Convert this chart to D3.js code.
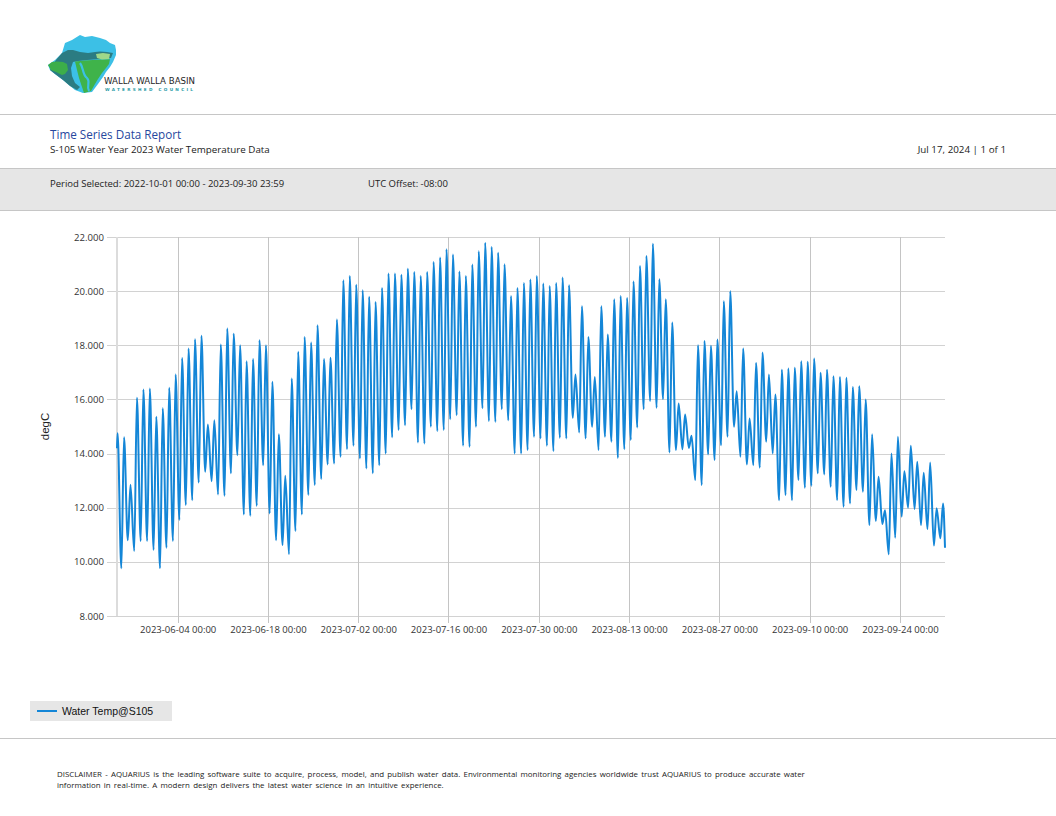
<!DOCTYPE html>
<html>
<head>
<meta charset="utf-8">
<script src="https://cdn.jsdelivr.net/npm/d3@7"></script>
<style>
  html, body { margin: 0; padding: 0; background: #fff; }
  svg { display: block; }
</style>
</head>
<body>
<div id="page"></div>
<script>
// Report texts
var reportTitle = "Time Series Data Report";
var reportSubtitle = "S-105 Water Year 2023 Water Temperature Data";
var reportDate = "Jul 17, 2024 | 1 of 1";
var periodText = "Period Selected: 2022-10-01 00:00 - 2023-09-30 23:59";
var utcText = "UTC Offset: -08:00";
var seriesName = "Water Temp@S105";
var yLabel = "degC";
var disclaimer = [
  "DISCLAIMER - AQUARIUS is the leading software suite to acquire, process, model, and publish water data. Environmental monitoring agencies worldwide trust AQUARIUS to produce accurate water",
  "information in real-time. A modern design delivers the latest water science in an intuitive experience."
];

// First day of the record; daily peaks come late afternoon, lows early morning
var firstDay = "2023-05-25";
var peakTime = "16:30";
var lowTime = "06:30";
var firstReading = ["2023-05-25 14:20", 14.20];
var lastReading = ["2023-09-30 23:45", 10.52];

// Daily maximum, one per day from 2023-05-25 to 2023-09-30
var dailyMax = [
  14.75, 14.60, 12.85, 16.06, 16.37, 16.40, 15.36, 15.67, 16.43, 16.92,
  17.53, 17.88, 18.22, 18.35, 15.07, 15.23, 18.03, 18.62, 18.43, 18.00,
  17.41, 17.49, 18.19, 18.00, 16.65, 14.71, 13.18, 16.77, 17.76, 18.31,
  18.10, 18.74, 17.49, 17.54, 18.95, 20.40, 20.56, 20.24, 20.03, 19.79,
  19.60, 20.12, 20.65, 20.65, 20.61, 20.83, 20.71, 20.56, 20.71, 21.08,
  21.24, 21.55, 21.35, 20.73, 20.56, 20.98, 21.47, 21.79, 21.63, 21.42,
  20.99, 19.82, 20.12, 20.30, 20.43, 20.56, 20.28, 20.19, 20.30, 20.50,
  20.22, 16.92, 19.44, 18.31, 16.83, 19.44, 18.40, 19.70, 19.82, 19.75,
  20.36, 20.93, 21.30, 21.75, 20.44, 19.70, 18.84, 15.85, 15.44, 14.66,
  18.00, 18.16, 17.98, 18.21, 19.63, 20.00, 16.30, 17.88, 15.30, 17.35,
  17.73, 16.92, 16.18, 17.10, 17.14, 17.17, 17.41, 17.39, 17.51, 16.99,
  17.10, 16.86, 16.83, 16.80, 16.46, 16.49, 16.00, 14.71, 13.14, 11.91,
  14.00, 14.62, 13.35, 14.29, 13.70, 13.29, 13.67, 11.98, 12.16
];

// Daily minimum, one per day from 2023-05-26 to 2023-09-30
var dailyMin = [
  9.76, 10.80, 10.40, 10.77, 10.77, 10.44, 9.76, 10.52, 10.77, 11.55,
  12.10, 12.28, 12.93, 13.33, 12.98, 12.49, 12.44, 13.27, 13.94, 11.75,
  11.70, 12.07, 13.57, 11.79, 10.80, 10.62, 10.28, 11.14, 11.75, 12.47,
  12.84, 13.06, 13.60, 13.63, 13.88, 14.16, 14.29, 13.82, 13.45, 13.27,
  13.57, 14.00, 14.60, 14.87, 15.05, 15.64, 14.41, 14.37, 14.99, 14.83,
  14.87, 15.27, 15.42, 14.29, 14.25, 14.99, 15.67, 15.20, 15.17, 15.64,
  15.23, 14.00, 14.00, 14.13, 14.62, 14.56, 14.29, 14.09, 14.58, 14.56,
  15.32, 14.78, 14.56, 14.99, 14.13, 14.62, 14.44, 13.84, 14.16, 14.50,
  14.96, 15.64, 15.94, 15.69, 16.01, 14.04, 14.13, 14.16, 14.21, 13.02,
  12.84, 13.97, 13.76, 14.31, 14.62, 14.99, 13.88, 13.60, 13.57, 13.48,
  14.44, 14.00, 12.28, 12.47, 12.28, 13.02, 12.74, 12.81, 13.27, 13.23,
  12.77, 12.28, 12.04, 12.16, 12.65, 12.59, 11.36, 11.51, 11.40, 10.28,
  10.89, 11.67, 12.00, 11.95, 11.36, 11.21, 10.60, 10.87
];

var xTickLabels = [
  "2023-06-04 00:00", "2023-06-18 00:00", "2023-07-02 00:00", "2023-07-16 00:00",
  "2023-07-30 00:00", "2023-08-13 00:00", "2023-08-27 00:00", "2023-09-10 00:00",
  "2023-09-24 00:00"
];
var yTicks = [8, 10, 12, 14, 16, 18, 20, 22];

var width = 1056, height = 816;
var plot = { left: 117, right: 945, top: 237, bottom: 616 };
var lineColor = "#1486d7";
var gridColor = "#d2d2d2";
var font = "'Open Sans', 'Noto Sans', sans-serif";

var parse = d3.timeParse("%Y-%m-%d %H:%M");
var fmt = d3.timeFormat("%Y-%m-%d %H:%M");

// Build the readings in time order
var readings = [];
readings.push({ t: parse(firstReading[0]), v: firstReading[1] });
var day0 = parse(firstDay + " 00:00");
for (var k = 0; k < dailyMax.length; k++) {
  var dayStr = d3.timeFormat("%Y-%m-%d")(d3.timeDay.offset(day0, k));
  if (k > 0) {
    readings.push({ t: parse(dayStr + " " + lowTime), v: dailyMin[k - 1] });
  }
  readings.push({ t: parse(dayStr + " " + peakTime), v: dailyMax[k] });
}
readings.push({ t: parse(lastReading[0]), v: lastReading[1] });

var svg = d3.select("#page").append("svg")
  .attr("width", width)
  .attr("height", height);

svg.append("rect").attr("width", width).attr("height", height).attr("fill", "#fff");

// ---- header logo ----
function logoPts(pts) {
  return pts.map(function(p) { return p.join(","); }).join(" ");
}
var logo = svg.append("g").attr("class", "logo");
logo.append("polygon")
  .attr("points", logoPts([[62,53],[65,43],[72,40],[80,35],[85,37],[92,36],[100,38],[106,40],
    [110,43],[115,45],[116,50],[116,55],[113,62],[110,67],[106,72],[103,77],[98,84],[92,92],
    [83,93],[75,90],[63,80],[55,74],[50,70],[48,65],[55,60]]))
  .attr("fill", "#3cc0e6");
logo.append("polygon")
  .attr("points", logoPts([[56,60],[62,53],[68,50],[73,50],[80,52],[88,53],[95,52],[100,51.5],
    [107,52],[113,53],[111,58],[100,59],[87,60],[78,61],[73,62],[71,68],[72,76],[75,83],
    [80,87],[77,90],[70,86],[63,80],[55,74],[50,70]]))
  .attr("fill", "#2b7c82");
logo.append("polygon")
  .attr("points", logoPts([[48,65],[52,62],[57,61.5],[63,62],[67,64],[68,70],[65,74],[62,75],
    [56,72],[51,70]]))
  .attr("fill", "#3cae4a");
logo.append("polygon")
  .attr("points", logoPts([[75,61.5],[85,60.5],[93,60],[102,59.5],[110,59.3],[109,64],[106,68],
    [102,73],[98,79],[95,84],[91,91],[84,93],[82,87],[79,78],[77,70]]))
  .attr("fill", "#3fb34a");
logo.append("polygon")
  .attr("points", logoPts([[96,54],[103,53],[110,54],[109,59],[102,59.5],[97,58]]))
  .attr("fill", "#9fd88a");
logo.append("path")
  .attr("d", "M80,63 C84,68 82,74 87,78 C91,82 86,86 89,91")
  .attr("fill", "none").attr("stroke", "#3cc0e6").attr("stroke-width", 2.2);
logo.append("text")
  .attr("x", 104).attr("y", 83.5)
  .attr("textLength", 91).attr("lengthAdjust", "spacingAndGlyphs")
  .style("font-family", "'DejaVu Sans Condensed', sans-serif")
  .style("font-size", "8.8px")
  .style("fill", "#1e1e1e")
  .text("WALLA WALLA BASIN");
logo.append("text")
  .attr("x", 105).attr("y", 90.5)
  .attr("textLength", 88).attr("lengthAdjust", "spacing")
  .style("font-family", "'DejaVu Sans', sans-serif")
  .style("font-size", "4.2px").style("font-weight", "bold")
  .style("fill", "#2a9ba6")
  .text("WATERSHED COUNCIL");

// ---- header bands ----
svg.append("line").attr("x1", 0).attr("x2", width).attr("y1", 114.5).attr("y2", 114.5)
  .attr("stroke", "#c6c6c6");
svg.append("text").attr("x", 50).attr("y", 139)
  .style("font-family", font).style("font-size", "11.7px").style("fill", "#27479e")
  .text(reportTitle);
svg.append("text").attr("x", 50).attr("y", 152.7)
  .style("font-family", font).style("font-size", "9.8px").style("fill", "#222")
  .text(reportSubtitle);
svg.append("text").attr("x", 1006).attr("y", 152.7).attr("text-anchor", "end")
  .style("font-family", font).style("font-size", "9.8px").style("fill", "#222")
  .text(reportDate);

svg.append("rect").attr("x", 0).attr("y", 168).attr("width", width).attr("height", 42)
  .attr("fill", "#e6e6e6");
svg.append("line").attr("x1", 0).attr("x2", width).attr("y1", 168.5).attr("y2", 168.5)
  .attr("stroke", "#c6c6c6");
svg.append("line").attr("x1", 0).attr("x2", width).attr("y1", 210.5).attr("y2", 210.5)
  .attr("stroke", "#c6c6c6");
svg.append("text").attr("x", 50).attr("y", 186.7)
  .style("font-family", font).style("font-size", "9.5px").style("fill", "#222")
  .text(periodText);
svg.append("text").attr("x", 368).attr("y", 186.7)
  .style("font-family", font).style("font-size", "9.5px").style("fill", "#222")
  .text(utcText);

// ---- chart ----
var x = d3.scaleTime()
  .domain(d3.extent(readings, function(d) { return d.t; }))
  .range([plot.left, plot.right]);
var y = d3.scaleLinear()
  .domain([8, 22])
  .range([plot.bottom, plot.top]);

var yAxis = d3.axisLeft(y)
  .tickValues(yTicks)
  .tickSize(-(plot.right - plot.left + 10))
  .tickPadding(3)
  .tickFormat(d3.format(".3f"));
var gy = svg.append("g")
  .attr("transform", "translate(" + (plot.left - 10) + ",0)")
  .call(yAxis);
gy.select(".domain").remove();
gy.selectAll(".tick line").attr("stroke", gridColor).attr("shape-rendering", "crispEdges");
gy.selectAll(".tick text")
  .style("font-family", font).style("font-size", "9.6px").style("fill", "#333");

var xAxis = d3.axisBottom(x)
  .tickValues(xTickLabels.map(parse))
  .tickSize(-(plot.bottom + 7 - plot.top))
  .tickPadding(3.3)
  .tickFormat(fmt);
var gx = svg.append("g")
  .attr("transform", "translate(0," + (plot.bottom + 7) + ")")
  .call(xAxis);
gx.select(".domain").remove();
gx.selectAll(".tick line").attr("stroke", "#c4c4c4").attr("shape-rendering", "crispEdges");
gx.selectAll(".tick text")
  .style("font-family", font).style("font-size", "9.5px").style("fill", "#333");

// left axis line
svg.append("line")
  .attr("x1", plot.left).attr("x2", plot.left)
  .attr("y1", plot.top).attr("y2", plot.bottom)
  .attr("stroke", "#dcdcdc").attr("stroke-width", 2);

svg.append("text")
  .attr("transform", "translate(49," + ((plot.top + plot.bottom) / 2) + ") rotate(-90)")
  .attr("text-anchor", "middle")
  .style("font-family", "'Liberation Sans', Arial, sans-serif")
  .style("font-size", "11.5px").style("fill", "#222")
  .text(yLabel);

var line = d3.line()
  .x(function(d) { return x(d.t); })
  .y(function(d) { return y(d.v); })
  .curve(d3.curveMonotoneX);

svg.append("path")
  .datum(readings)
  .attr("fill", "none")
  .attr("stroke", lineColor)
  .attr("stroke-width", 2)
  .attr("stroke-linejoin", "round")
  .attr("d", line);

// ---- legend ----
var lg = svg.append("g").attr("transform", "translate(30,701)");
lg.append("rect").attr("width", 142).attr("height", 20).attr("fill", "#e6e6e6");
lg.append("line").attr("x1", 7).attr("x2", 27).attr("y1", 10).attr("y2", 10)
  .attr("stroke", lineColor).attr("stroke-width", 2);
lg.append("text").attr("x", 32).attr("y", 14)
  .style("font-family", "'Liberation Sans', Arial, sans-serif")
  .style("font-size", "10.5px").style("fill", "#111")
  .text(seriesName);

// ---- footer ----
svg.append("line").attr("x1", 0).attr("x2", width).attr("y1", 738.5).attr("y2", 738.5)
  .attr("stroke", "#c6c6c6");
svg.selectAll(".disclaimer")
  .data(disclaimer)
  .enter()
  .append("text")
  .attr("class", "disclaimer")
  .attr("x", 57)
  .attr("y", function(d, i) { return 777 + i * 11; })
  .style("font-family", font).style("font-size", "7.9px").style("fill", "#222")
  .style("word-spacing", "1.2px")
  .text(function(d) { return d; });
</script>
</body>
</html>
